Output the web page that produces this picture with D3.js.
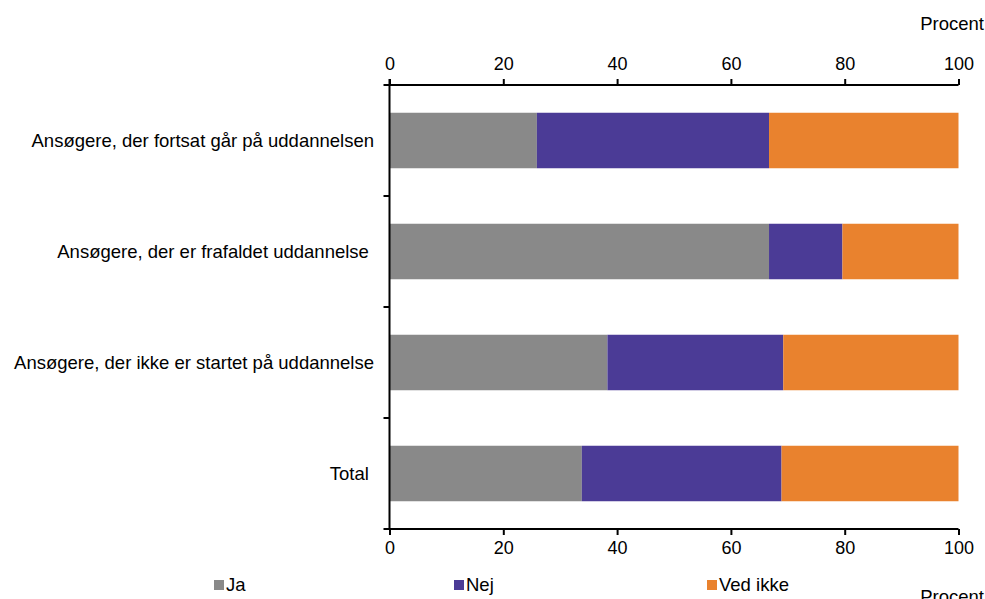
<!DOCTYPE html>
<html><head><meta charset="utf-8">
<script src="https://cdn.jsdelivr.net/npm/d3@7"></script>
<style>body{margin:0;background:#fff}svg{display:block;font-family:"Liberation Sans",Arial,sans-serif}</style>
</head><body><svg id="c" width="985" height="599"></svg>
<script>
const categories = ["Ansøgere, der fortsat går på uddannelsen","Ansøgere, der er frafaldet uddannelse ","Ansøgere, der ikke er startet på uddannelse","Total "];
const seriesNames = ["Ja","Nej","Ved ikke"];
const ja = [25.9, 66.7, 38.3, 33.8];
const nej = [40.8, 12.9, 30.9, 35.1];
const vedIkke = [33.3, 20.4, 30.8, 31.1];
const colors = ["#898989","#4b3b96","#e9822e"];
const xTicks = [0,20,40,60,80,100];

(function(){
const svg = d3.select("#c");
const pLeft = 389.5, pRight = 958.5, pTop = 85, pBottom = 529;
const x = d3.scaleLinear().domain([0,100]).range([pLeft,pRight]);
const y = d3.scaleBand().domain(categories).range([pTop,pBottom]).padding(0.5).paddingOuter(0.25);

const rows = categories.map((c,i)=>({cat:c, Ja:ja[i], Nej:nej[i], "Ved ikke":vedIkke[i]}));
const stack = d3.stack().keys(seriesNames)(rows);

stack.forEach((s,si)=>{
  svg.append("g").selectAll("rect").data(s).join("rect")
    .attr("x", d=>x(d[0])).attr("width", d=>x(Math.min(d[1],100))-x(d[0]))
    .attr("y", d=>y(d.data.cat)).attr("height", y.bandwidth())
    .attr("fill", colors[si]);
});

const fs = "18px", fsL = "18.5px";
const topAx = svg.append("g").attr("transform",`translate(0,${pTop})`)
  .call(d3.axisTop(x).tickValues(xTicks).tickSize(6).tickPadding(9));
const botAx = svg.append("g").attr("transform",`translate(0,${pBottom})`)
  .call(d3.axisBottom(x).tickValues(xTicks).tickSize(6).tickPadding(6));
[topAx,botAx].forEach(g=>{
  g.select(".domain").attr("stroke","#000").attr("stroke-width",2).attr("d",`M${pLeft},0H${pRight}`);
  g.selectAll(".tick line").attr("stroke","#000").attr("stroke-width",2);
  g.selectAll("text").attr("font-size",fs).attr("fill","#000").attr("font-family","Liberation Sans, Arial, sans-serif");
});

const yAx = svg.append("g");
yAx.append("line").attr("x1",pLeft).attr("x2",pLeft).attr("y1",pTop-6).attr("y2",pBottom+1).attr("stroke","#000").attr("stroke-width",2);
const bounds = d3.range(categories.length+1).map(i=>pTop+i*(pBottom-pTop)/categories.length);
yAx.selectAll("line.t").data(bounds).join("line").attr("class","t")
  .attr("x1",pLeft-6).attr("x2",pLeft).attr("y1",d=>d).attr("y2",d=>d).attr("stroke","#000").attr("stroke-width",2);

svg.append("g").selectAll("text").data(categories).join("text")
  .attr("x",374).attr("y",d=>y(d)+y.bandwidth()/2).attr("dy","0.35em")
  .attr("text-anchor","end").attr("font-size",fsL).style("white-space","pre").attr("xml:space","preserve").text(d=>d);

svg.append("text").attr("x",984).attr("y",30).attr("text-anchor","end").attr("font-size",fsL).text("Procent");
svg.append("text").attr("x",984).attr("y",603).attr("text-anchor","end").attr("font-size",fsL).text("Procent");

const legX = [214, 454, 707];
const lg = svg.append("g").selectAll("g").data(seriesNames).join("g")
  .attr("transform",(d,i)=>`translate(${legX[i]},580)`);
lg.append("rect").attr("width",10).attr("height",10).attr("fill",(d,i)=>colors[i]);
lg.append("text").attr("x",12).attr("y",5).attr("dy","0.35em").attr("font-size",fsL).text(d=>d);
})();
</script></body></html>
